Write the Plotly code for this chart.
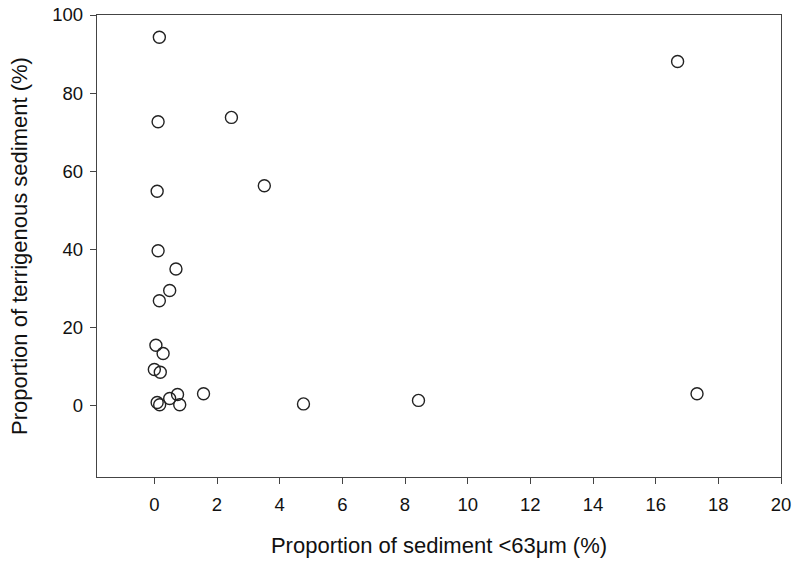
import plotly.graph_objects as go

fine_pct = [0.16, 0.12, 2.46, 0.09, 3.51, 0.12, 0.69, 0.49, 0.16, 0.05, 0.28, 0.0, 0.19,
            1.57, 0.74, 0.49, 0.09, 0.17, 0.81, 4.76, 8.43, 16.70, 17.32]
terr_pct = [94.3, 72.7, 73.8, 54.9, 56.3, 39.7, 35.0, 29.5, 26.9, 15.5, 13.4, 9.3, 8.6,
            3.1, 2.9, 1.9, 0.85, 0.3, 0.3, 0.5, 1.4, 88.1, 3.1]

x_ticks = [0, 2, 4, 6, 8, 10, 12, 14, 16, 18, 20]
y_ticks = [0, 20, 40, 60, 80, 100]

FONT = "Liberation Sans, Arial"

fig = go.Figure(go.Scatter(
    x=fine_pct, y=terr_pct, mode="markers",
    marker=dict(symbol="circle-open", size=12, color="#222222",
                line=dict(width=1.4, color="#222222")),
    showlegend=False,
))

axis_common = dict(
    showgrid=False, zeroline=False, showline=True, linecolor="#444444",
    linewidth=1.4, mirror=True, ticks="outside", ticklen=6, tickwidth=1.2,
    tickcolor="#444444", automargin=False,
    tickfont=dict(family=FONT, size=18.5, color="#111111"),
)

fig.update_xaxes(range=[-1.83, 20], tickvals=x_ticks, ticklabelstandoff=5,
                 title=dict(text="Proportion of sediment &lt;63μm (%)",
                            font=dict(family=FONT, size=22, color="#111111"),
                            standoff=23),
                 **axis_common)
fig.update_yaxes(range=[-18.2, 100], tickvals=y_ticks, ticklabelstandoff=3,
                 title=dict(text="Proportion of terrigenous sediment (%)",
                            font=dict(family=FONT, size=22, color="#111111"),
                            standoff=18),
                 **axis_common)

fig.update_layout(
    width=796, height=563,
    margin=dict(l=97, r=15, t=15, b=86),
    plot_bgcolor="white", paper_bgcolor="white",
)

fig.write_html("out.html")
